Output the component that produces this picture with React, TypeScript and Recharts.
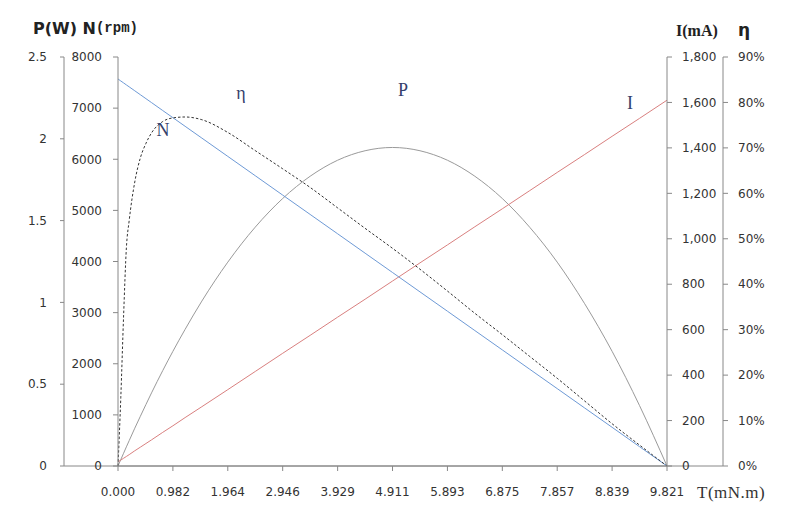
import { ComposedChart, Line, XAxis, YAxis, ReferenceLine, ReferenceDot } from 'recharts';

// torque in mN.m
const torque = [0, 0.05, 0.1, 0.15, 0.2, 0.3, 0.4, 0.5, 0.6, 0.8, 0.982, 1.2, 1.5, 1.964, 2.455, 2.946, 3.437, 3.929, 4.42, 4.911, 5.402, 5.893, 6.384, 6.875, 7.366, 7.857, 8.348, 8.839, 9.33, 9.821];
const speed = [7570, 7531, 7493, 7454, 7416, 7339, 7262, 7185, 7108, 6953, 6813, 6645, 6414, 6056, 5678, 5299, 4921, 4542, 4163, 3785, 3406, 3028, 2649, 2271, 1892, 1514, 1135, 757, 378, 0];
const current = [18, 26, 34, 42, 50, 67, 83, 99, 115, 148, 177, 213, 261, 336, 416, 496, 575, 655, 734, 814, 894, 973, 1053, 1132, 1212, 1292, 1371, 1451, 1530, 1610];
const power = [0, 0.039, 0.078, 0.117, 0.155, 0.231, 0.304, 0.376, 0.447, 0.583, 0.701, 0.835, 1.008, 1.246, 1.46, 1.635, 1.771, 1.869, 1.927, 1.947, 1.927, 1.869, 1.771, 1.635, 1.459, 1.246, 0.992, 0.701, 0.369, 0];
const efficiency = [0, 15, 33, 48, 54, 62.5, 67.8, 71, 73.3, 75.8, 76.6, 76.8, 76.2, 73.4, 69.4, 65.4, 61.3, 56.8, 52.3, 47.9, 43.3, 38.5, 33.6, 28.9, 24.1, 19.3, 14.3, 9.3, 4.6, 0];

const xTicks = [0, 0.982, 1.964, 2.946, 3.929, 4.911, 5.893, 6.875, 7.857, 8.839, 9.821];
const pTicks = [0, 0.5, 1, 1.5, 2, 2.5];
const nTicks = [0, 1000, 2000, 3000, 4000, 5000, 6000, 7000, 8000];
const iTicks = [0, 200, 400, 600, 800, 1000, 1200, 1400, 1600, 1800];
const etaTicks = [0, 10, 20, 30, 40, 50, 60, 70, 80, 90];

// curve name tags: [text, torque, rpm]
const curveTags: [string, number, number][] = [
  ['N', 0.805, 6572],
  ['η', 2.2, 7296],
  ['P', 5.1, 7355],
  ['I', 9.16, 7100],
];

const data = torque.map((t, i) => ({
  t,
  n: speed[i],
  i: current[i],
  p: power[i],
  eta: efficiency[i],
}));

const axisColor = '#888';
const tickStyle = { fill: '#333', fontSize: 12, fontFamily: 'DejaVu Sans' };
const tagColor = '#34406b';

// axis ids: l1/r1 sit next to the plot, l2/r2 outside them
export default function App() {
  return (
    <div style={{ position: 'relative', width: 786, height: 501 }}>
      <ComposedChart
        width={786}
        height={501}
        data={data}
        margin={{ top: 49, right: 21, left: 6, bottom: 0 }}
      >
        <XAxis
          dataKey="t"
          type="number"
          domain={[0, 9.821]}
          ticks={xTicks}
          interval={0}
          tickFormatter={(v: number) => v.toFixed(3)}
          height={43}
          tickSize={5}
          tickMargin={16}
          stroke={axisColor}
          tick={tickStyle}
        />
        <YAxis
          yAxisId="l1"
          orientation="left"
          type="number"
          domain={[0, 8000]}
          ticks={nTicks}
          interval={0}
          width={54}
          tickSize={5}
          tickMargin={11}
          stroke={axisColor}
          tick={tickStyle}
        />
        <YAxis
          yAxisId="l2"
          orientation="left"
          type="number"
          domain={[0, 2.5]}
          ticks={pTicks}
          interval={0}
          width={50}
          tickSize={4}
          tickMargin={13}
          stroke={axisColor}
          tick={tickStyle}
        />
        <YAxis
          yAxisId="r1"
          orientation="right"
          type="number"
          domain={[0, 1800]}
          ticks={iTicks}
          interval={0}
          width={56}
          tickSize={5}
          tickMargin={10}
          tickFormatter={(v: number) => v.toLocaleString('en-US')}
          stroke={axisColor}
          tick={tickStyle}
        />
        <YAxis
          yAxisId="r2"
          orientation="right"
          type="number"
          domain={[0, 90]}
          ticks={etaTicks}
          interval={0}
          width={50}
          tickSize={5}
          tickMargin={10}
          tickFormatter={(v: number) => `${v}%`}
          stroke={axisColor}
          tick={tickStyle}
        />
        {/* horizontal base line runs under the outer axes too */}
        <ReferenceLine
          yAxisId="l1"
          segment={[{ x: -0.966, y: 0 }, { x: 10.823, y: 0 }]}
          stroke={axisColor}
          ifOverflow="visible"
        />
        <Line yAxisId="l2" dataKey="p" type="monotone" stroke="#9a9a9a" strokeWidth={1} dot={false} isAnimationActive={false} />
        <Line yAxisId="r1" dataKey="i" type="linear" stroke="#d9807f" strokeWidth={1} dot={false} isAnimationActive={false} />
        <Line yAxisId="l1" dataKey="n" type="linear" stroke="#6e9ad6" strokeWidth={1} dot={false} isAnimationActive={false} />
        <Line yAxisId="r2" dataKey="eta" type="monotone" stroke="#333" strokeWidth={1} strokeDasharray="2.5 2" dot={false} isAnimationActive={false} />
        {curveTags.map(([text, x, y]) => (
          <ReferenceDot
            key={text}
            yAxisId="l1"
            x={x}
            y={y}
            r={0}
            fill="none"
            stroke="none"
            label={{ value: text, position: 'center', fill: tagColor, fontSize: 18, fontFamily: 'Liberation Serif' }}
          />
        ))}
      </ComposedChart>
      <svg
        width={786}
        height={501}
        style={{ position: 'absolute', left: 0, top: 0, pointerEvents: 'none' }}
      >
        <text x={25} y={20} dominantBaseline="central" fill="#222" fontWeight="bold">
          <tspan fontFamily="DejaVu Sans" fontSize={16}>P(W) N</tspan>
          <tspan fontFamily="Liberation Mono" fontSize={14}>(rpm)</tspan>
        </text>
        <text x={668} y={22} dominantBaseline="central" fill="#222" fontWeight="bold" fontFamily="Liberation Serif" fontSize={16}>
          I(mA)
        </text>
        <text x={730} y={22} dominantBaseline="central" fill="#222" fontWeight="bold" fontFamily="DejaVu Sans" fontSize={17}>
          η
        </text>
        <text x={689} y={484} dominantBaseline="central" fill="#333" fontFamily="Liberation Serif" fontSize={17} letterSpacing={0.5}>
          T(mN.m)
        </text>
      </svg>
    </div>
  );
}
